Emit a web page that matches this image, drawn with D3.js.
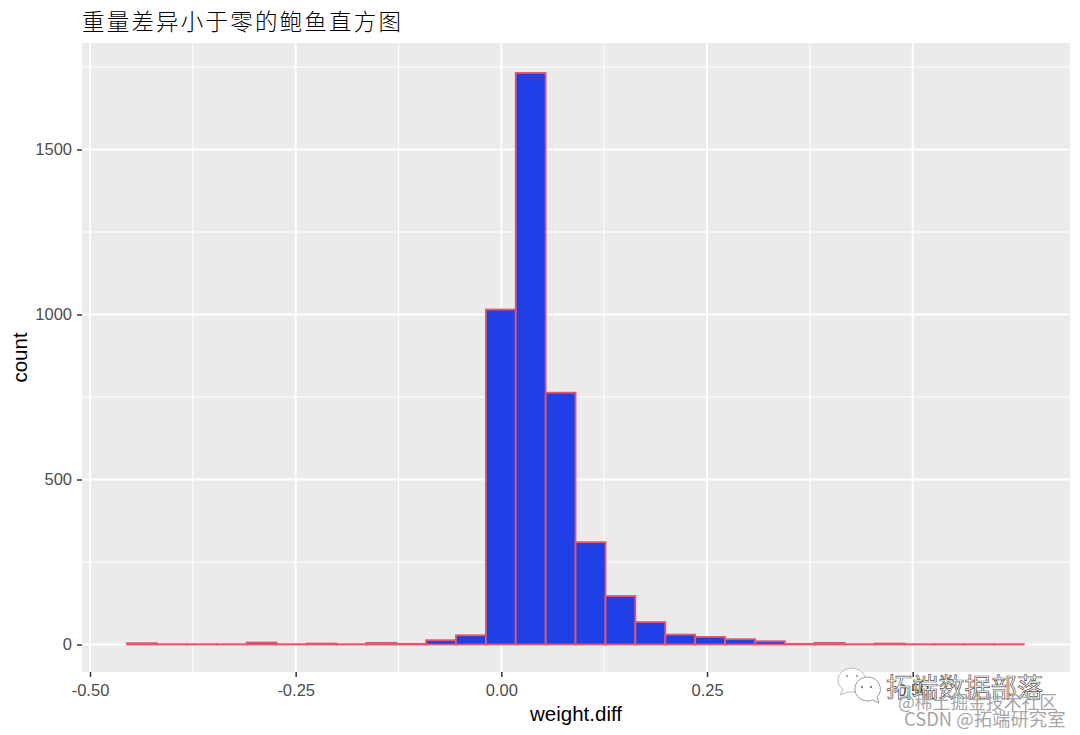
<!DOCTYPE html>
<html>
<head>
<meta charset="utf-8">
<script src="https://cdn.jsdelivr.net/npm/d3@7"></script>
<style>
  html, body { margin: 0; padding: 0; background: #fff; }
  svg { display: block; }
  .axis text { font-family: "Liberation Sans", Arial, sans-serif; font-size: 16.5px; fill: #4d4d4d; }
  .axis line { stroke: #333; stroke-width: 1.5; }
  .axis path { display: none; }
  .axis-title { font-family: "Liberation Sans", Arial, sans-serif; font-size: 20.5px; fill: #000; }
</style>
</head>
<body>
<svg id="chart"></svg>
<script>
// left and right edge of each histogram bin
const binStarts = [-0.4550, -0.4187, -0.3823, -0.3460, -0.3096, -0.2733, -0.2369, -0.2006, -0.1642, -0.1279,
    -0.0915, -0.0552, -0.0188, 0.0175, 0.0539, 0.0902, 0.1266, 0.1629, 0.1993, 0.2356,
    0.2720, 0.3083, 0.3447, 0.3810, 0.4174, 0.4537, 0.4901, 0.5264, 0.5628, 0.5991];
const binEnds = [-0.4187, -0.3823, -0.3460, -0.3096, -0.2733, -0.2369, -0.2006, -0.1642, -0.1279, -0.0915,
    -0.0552, -0.0188, 0.0175, 0.0539, 0.0902, 0.1266, 0.1629, 0.1993, 0.2356, 0.2720,
    0.3083, 0.3447, 0.3810, 0.4174, 0.4537, 0.4901, 0.5264, 0.5628, 0.5991, 0.6350];
const counts = [4, 1, 1, 1, 6, 1, 3, 1, 5, 2,
    13, 28, 1015, 1732, 763, 310, 147, 68, 30, 23,
    16, 10, 2, 5, 1, 3, 1, 1, 1, 1];

const xMajor = [-0.5, -0.25, 0, 0.25, 0.5];
const xMinor = [-0.375, -0.125, 0.125, 0.375];
const xLabels = ["-0.50", "-0.25", "0.00", "0.25", "0.50"];
const yMajor = [0, 500, 1000, 1500];
const yMinor = [250, 750, 1250, 1750];

const titleText = "重量差异小于零的鲍鱼直方图";

const width = 1080;
const height = 735;
const panel = { left: 82, right: 1070, top: 43, bottom: 672 };

const svg = d3.select("#chart").attr("width", width).attr("height", height);

const x = d3.scaleLinear().domain([-0.5, 0.5]).range([90, 912.7]);
const y = d3.scaleLinear().domain([0, 1500]).range([644.5, 149.5]);

svg.append("rect")
    .attr("x", panel.left)
    .attr("y", panel.top)
    .attr("width", panel.right - panel.left)
    .attr("height", panel.bottom - panel.top)
    .attr("fill", "#ebebeb");

// grid
svg.append("g").selectAll("line").data(xMinor).join("line")
    .attr("x1", d => x(d)).attr("x2", d => x(d))
    .attr("y1", panel.top).attr("y2", panel.bottom)
    .attr("stroke", "#fff").attr("stroke-width", 1);
svg.append("g").selectAll("line").data(yMinor).join("line")
    .attr("x1", panel.left).attr("x2", panel.right)
    .attr("y1", d => y(d)).attr("y2", d => y(d))
    .attr("stroke", "#fff").attr("stroke-width", 1);
svg.append("g").selectAll("line").data(xMajor).join("line")
    .attr("x1", d => x(d)).attr("x2", d => x(d))
    .attr("y1", panel.top).attr("y2", panel.bottom)
    .attr("stroke", "#fff").attr("stroke-width", 2);
svg.append("g").selectAll("line").data(yMajor).join("line")
    .attr("x1", panel.left).attr("x2", panel.right)
    .attr("y1", d => y(d)).attr("y2", d => y(d))
    .attr("stroke", "#fff").attr("stroke-width", 2);

// bars
svg.append("g").selectAll("rect").data(counts).join("rect")
    .attr("x", (d, i) => x(binStarts[i]))
    .attr("y", d => y(d))
    .attr("width", (d, i) => x(binEnds[i]) - x(binStarts[i]))
    .attr("height", d => y(0) - y(d))
    .attr("fill", "#1f40e6")
    .attr("stroke", "#e5566e")
    .attr("stroke-width", 1.8);

// axes
svg.append("g")
    .attr("class", "axis")
    .attr("transform", `translate(0,${panel.bottom})`)
    .call(d3.axisBottom(x).tickValues(xMajor).tickFormat((d, i) => xLabels[i]).tickSize(5).tickPadding(7));

svg.append("g")
    .attr("class", "axis")
    .attr("transform", `translate(${panel.left},0)`)
    .call(d3.axisLeft(y).tickValues(yMajor).tickFormat(d3.format("d")).tickSize(5).tickPadding(5));

svg.append("text")
    .attr("class", "axis-title")
    .attr("x", (panel.left + panel.right) / 2)
    .attr("y", 721)
    .attr("text-anchor", "middle")
    .text("weight.diff");

svg.append("text")
    .attr("class", "axis-title")
    .attr("transform", `translate(27,${(panel.top + panel.bottom) / 2}) rotate(-90)`)
    .attr("text-anchor", "middle")
    .text("count");

svg.append("text")
    .attr("x", 82)
    .attr("y", 30)
    .attr("font-family", '"Noto Sans CJK SC", sans-serif')
    .attr("font-weight", 300)
    .attr("font-size", 22.5)
    .attr("letter-spacing", 2.2)
    .attr("fill", "#000")
    .text(titleText);

// watermark in the corner
const mark = svg.append("g").attr("font-family", '"Noto Sans CJK SC", sans-serif');

mark.append("path")
    .attr("d", "M853 668a15 12 0 0 0-10 21l-3 6 8-3a15 12 0 1 0 5-24z")
    .attr("fill", "#fff").attr("stroke", "#bbb").attr("stroke-width", 1);
mark.append("path")
    .attr("d", "M867 677a13 12 0 1 0 6 23l6 3-2-6a13 12 0 0 0-10-20z")
    .attr("fill", "#fff").attr("stroke", "#999").attr("stroke-width", 1);
mark.append("circle").attr("cx", 862).attr("cy", 687).attr("r", 1.2).attr("fill", "#888");
mark.append("circle").attr("cx", 871).attr("cy", 687).attr("r", 1.2).attr("fill", "#888");
mark.append("circle").attr("cx", 847).attr("cy", 676).attr("r", 1.2).attr("fill", "#aaa");
mark.append("circle").attr("cx", 857).attr("cy", 676).attr("r", 1.2).attr("fill", "#aaa");

mark.append("text").attr("x", 886).attr("y", 697)
    .attr("font-size", 26).attr("letter-spacing", 0.2)
    .attr("fill", "#fff").attr("stroke", "#555").attr("stroke-width", 0.7)
    .text("拓端数据部落");
mark.append("text").attr("x", 898).attr("y", 709)
    .attr("font-size", 17.8).attr("fill", "#a6a6a6")
    .text("@稀土掘金技术社区");
mark.append("text").attr("x", 904).attr("y", 726)
    .attr("font-size", 18.4).attr("fill", "#a6a6a6")
    .text("CSDN @拓端研究室");
</script>
</body>
</html>
